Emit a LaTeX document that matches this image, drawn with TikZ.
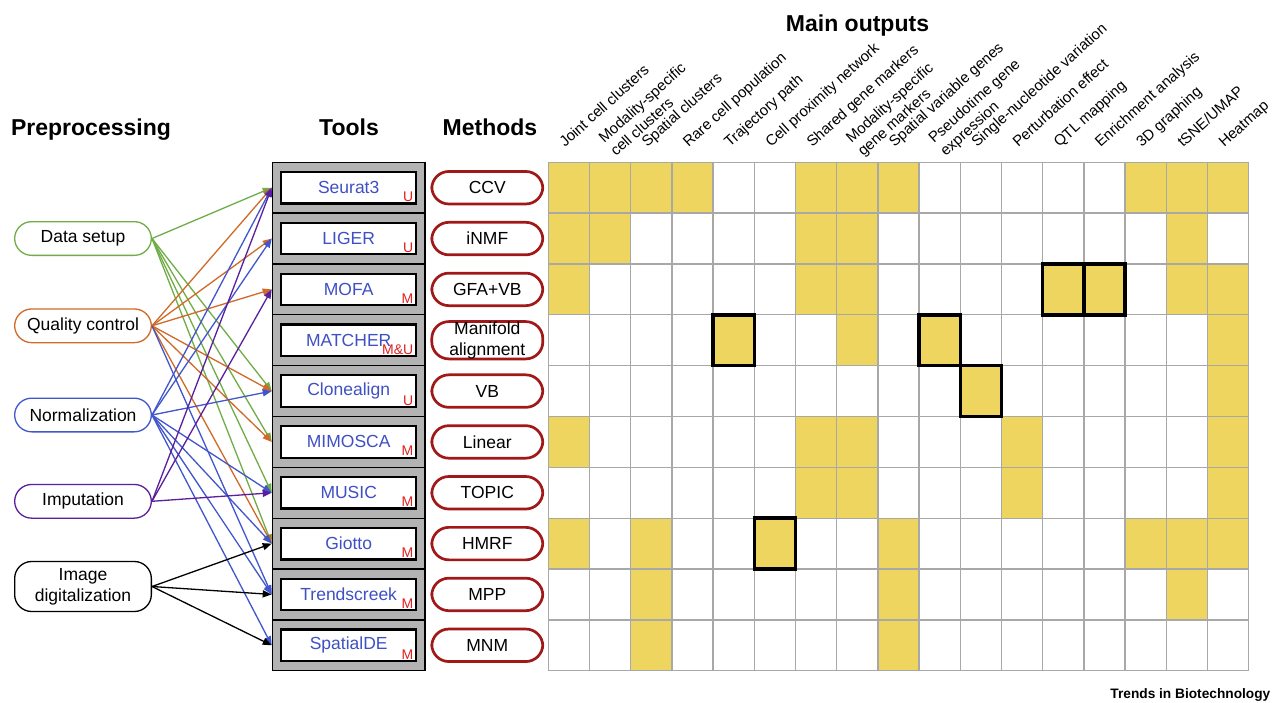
\documentclass[tikz,border=0pt]{standalone}
\usepackage{fontspec}
\setmainfont{Liberation Sans}
\usetikzlibrary{arrows.meta}
\definecolor{cgreen}{HTML}{70AD47}
\definecolor{corange}{HTML}{D06A28}
\definecolor{cblue}{HTML}{4256CC}
\definecolor{cpurple}{HTML}{5A1F9C}
\definecolor{toolblue}{HTML}{3F50C4}
\definecolor{lblred}{HTML}{E0201E}
\definecolor{methred}{HTML}{A01818}
\definecolor{cellyel}{HTML}{EDD55F}
\definecolor{gridgray}{HTML}{A8A8A8}
\definecolor{toolgray}{HTML}{B3B3B3}
\begin{document}
\begin{tikzpicture}[x=1pt,y=-1pt,
  every node/.style={inner sep=0pt},
  head/.style={font=\fontsize{23}{27}\selectfont\bfseries, anchor=base},
  prep/.style={draw, line width=1.3pt, rounded corners=17pt, minimum width=136.7pt, minimum height=33.7pt, align=center, font=\fontsize{17.5}{21}\selectfont},
  toolouter/.style={draw=black, line width=1.3pt, fill=toolgray, minimum width=152.7pt, minimum height=50.84pt},
  toolinner/.style={draw=black, line width=2.2pt, fill=white, minimum width=135.3pt, minimum height=31.6pt, text=toolblue, font=\fontsize{17.5}{21}\selectfont},
  tag/.style={text=lblred, font=\fontsize{14}{16}\selectfont, anchor=base east},
  meth/.style={draw=methred, line width=2.7pt, rounded corners=17pt, minimum width=111pt, minimum height=32.5pt, align=center, font=\fontsize{17.5}{21}\selectfont},
  hdr/.style={font=\fontsize{15}{17.5}\selectfont, rotate=42, anchor=base west},
  gridline/.style={draw=gridgray, line width=1.3pt},
  boldcell/.style={draw=black, line width=3.5pt},
  arr/.style={-{Triangle[length=9pt,width=7pt]}, line width=1.3pt}
]
\useasboundingbox (0,0) rectangle (1277,702);
\fill[white] (0,0) rectangle (1277,702);

% headings
\node[head] (hpre) at (91,135.5) {Preprocessing};
\node[head] (htools) at (349,135.5) {Tools};
\node[head] (hmeth) at (490,135.5) {Methods};
\node[head] (hout) at (857.5,31.5) {Main outputs};

% filled cells
\foreach \r/\c in {0/0,0/1,0/2,0/3,0/6,0/7,0/8,0/14,0/15,0/16,
  1/0,1/1,1/6,1/7,1/15,
  2/0,2/6,2/7,2/12,2/13,2/15,2/16,
  3/4,3/7,3/9,3/16,
  4/10,4/16,
  5/0,5/6,5/7,5/11,5/16,
  6/6,6/7,6/11,6/16,
  7/0,7/2,7/5,7/8,7/14,7/15,7/16,
  8/2,8/8,8/15,
  9/2,9/8}
  \fill[cellyel] (548.3+41.2*\c,162.3+50.84*\r) rectangle ++(41.2,50.84);
\foreach \c in {0,...,17}
  \draw[gridline] (548.3+41.2*\c,162.3) -- (548.3+41.2*\c,670.7);
\foreach \r in {0,...,10}
  \draw[gridline] (548.3,162.3+50.84*\r) -- (1248.7,162.3+50.84*\r);
\foreach \r/\c in {3/4,3/9,4/10,2/12,2/13,7/5}
  \draw[boldcell] (548.3+41.2*\c,162.3+50.84*\r) rectangle ++(41.2,50.84);

% column headers
\node[hdr] (o0) at (564.9,148) {Joint cell clusters};
\node[hdr] (o1) at (616,157) {\begin{tabular}[b]{@{}l@{}}Modality-specific\\cell clusters\end{tabular}};
\node[hdr] (o2) at (647.3,148) {Spatial clusters};
\node[hdr] (o3) at (688.5,148) {Rare cell population};
\node[hdr] (o4) at (729.7,148) {Trajectory path};
\node[hdr] (o5) at (770.9,148) {Cell proximity network};
\node[hdr] (o6) at (812.1,148) {Shared gene markers};
\node[hdr] (o7) at (863.3,157) {\begin{tabular}[b]{@{}l@{}}Modality-specific\\gene markers\end{tabular}};
\node[hdr] (o8) at (894.5,148) {Spatial variable genes};
\node[hdr] (o9) at (945.7,157) {\begin{tabular}[b]{@{}l@{}}Pseudotime gene\\expression\end{tabular}};
\node[hdr] (o10) at (976.9,148) {Single-nucleotide variation};
\node[hdr] (o11) at (1018.1,148) {Perturbation effect};
\node[hdr] (o12) at (1059.3,148) {QTL mapping};
\node[hdr] (o13) at (1100.5,148) {Enrichment analysis};
\node[hdr] (o14) at (1141.7,148) {3D graphing};
\node[hdr] (o15) at (1182.9,148) {tSNE/UMAP};
\node[hdr] (o16) at (1224.1,148) {Heatmap};

% tools and methods
\foreach \nm/\tg/\mt [count=\i from 0] in {Seurat3/U/CCV, LIGER/U/iNMF, MOFA/M/GFA+VB,
    MATCHER/M\&U/{Manifold\\alignment}, Clonealign/U/VB, MIMOSCA/M/Linear, MUSIC/M/TOPIC,
    Giotto/M/HMRF, Trendscreek/M/MPP, SpatialDE/M/MNM} {
  \pgfmathsetmacro\yc{187.72+50.84*\i}
  \node[toolouter] (t\i) at (348.7,\yc) {};
  \node[toolinner] (n\i) at (348.7,\yc) {\nm};
  \node[tag] (g\i) at (413.5,\yc+14) {\tg};
  \node[meth] (m\i) at (487.3,\yc) {\mt};
}

% preprocessing
\node[prep, draw=cgreen] (p1) at (83,238.5) {Data setup};
\node[prep, draw=corange] (p2) at (83,325.8) {Quality control};
\node[prep, draw=cblue] (p3) at (83,415) {Normalization};
\node[prep, draw=cpurple] (p4) at (83,501.3) {Imputation};
\node[prep, draw=black, minimum height=50pt] (p5) at (83,586.5) {Image\\digitalization};

% connectors
\foreach \t in {0,4,5,6,7} \draw[arr, cgreen] (p1.east) -- (t\t.west);
\foreach \t in {0,1,2,4,5,7} \draw[arr, corange] (p2.east) -- (t\t.west);
\draw[arr, cblue] (p2.east) -- (t8.west);
\foreach \t in {0,1,4,6,7,8,9} \draw[arr, cblue] (p3.east) -- (t\t.west);
\foreach \t in {0,2,6} \draw[arr, cpurple] (p4.east) -- (t\t.west);
\foreach \t in {7,8,9} \draw[arr, black] (p5.east) -- (t\t.west);

% footer
\node[anchor=base east, font=\fontsize{13.7}{16}\selectfont\bfseries] (foot) at (1270.5,698) {Trends in Biotechnology};
\end{tikzpicture}
\end{document}
